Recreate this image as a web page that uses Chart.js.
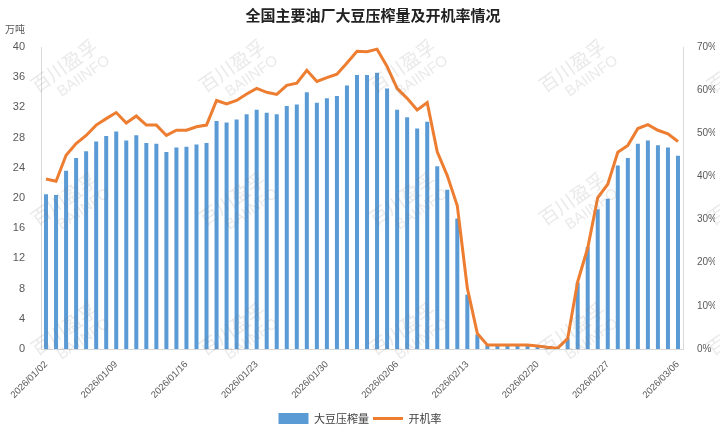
<!DOCTYPE html>
<html>
<head>
<meta charset="utf-8">
<script src="https://cdn.jsdelivr.net/npm/chart.js@4.4.1/dist/chart.umd.min.js"></script>
<style>
  html, body { margin: 0; padding: 0; background: #fff; }
  #wrap { width: 720px; height: 438px; position: relative; }
</style>
</head>
<body>
<div id="wrap"><canvas id="myChart" width="720" height="438"></canvas></div>
<script>
const dates = [
  '2026/01/02','2026/01/03','2026/01/04','2026/01/05','2026/01/06','2026/01/07','2026/01/08',
  '2026/01/09','2026/01/10','2026/01/11','2026/01/12','2026/01/13','2026/01/14','2026/01/15',
  '2026/01/16','2026/01/17','2026/01/18','2026/01/19','2026/01/20','2026/01/21','2026/01/22',
  '2026/01/23','2026/01/24','2026/01/25','2026/01/26','2026/01/27','2026/01/28','2026/01/29',
  '2026/01/30','2026/01/31','2026/02/01','2026/02/02','2026/02/03','2026/02/04','2026/02/05',
  '2026/02/06','2026/02/07','2026/02/08','2026/02/09','2026/02/10','2026/02/11','2026/02/12',
  '2026/02/13','2026/02/14','2026/02/15','2026/02/16','2026/02/17','2026/02/18','2026/02/19',
  '2026/02/20','2026/02/21','2026/02/22','2026/02/23','2026/02/24','2026/02/25','2026/02/26',
  '2026/02/27','2026/02/28','2026/03/01','2026/03/02','2026/03/03','2026/03/04','2026/03/05',
  '2026/03/06'
];

// 大豆压榨量 (万吨)
const crushVolume = [
  20.5, 20.4, 23.6, 25.3, 26.2, 27.5, 28.2,
  28.8, 27.6, 28.3, 27.3, 27.2, 26.1, 26.7,
  26.8, 27.1, 27.3, 30.2, 30.0, 30.4, 31.1,
  31.7, 31.3, 31.1, 32.2, 32.4, 34.0, 32.6,
  33.2, 33.5, 34.9, 36.3, 36.3, 36.6, 34.5,
  31.7, 30.7, 29.2, 30.1, 24.2, 21.1, 17.3,
  7.2, 1.9, 0.5, 0.5, 0.5, 0.5, 0.5,
  0.4, 0.3, 0.2, 1.4, 8.8, 13.5, 18.5,
  19.9, 24.3, 25.3, 27.2, 27.6, 27.0, 26.7,
  25.6
];

// 开机率 (%)
const operatingRate = [
  39.4, 38.9, 44.9, 47.6, 49.5, 51.9, 53.4,
  54.8, 52.4, 54.0, 51.9, 51.9, 49.5, 50.7,
  50.7, 51.5, 51.9, 57.6, 56.8, 57.6, 59.1,
  60.4, 59.5, 59.0, 61.1, 61.6, 64.6, 62.0,
  62.9, 63.7, 66.3, 69.0, 68.9, 69.5, 65.5,
  60.4, 58.1, 55.4, 57.1, 45.7, 40.2, 33.2,
  14.1, 3.6, 0.9, 0.9, 0.9, 0.9, 0.9,
  0.7, 0.4, 0.2, 2.4, 15.6, 23.4, 35.1,
  38.2, 45.6, 47.2, 51.1, 52.0, 50.7, 49.9,
  48.1
];

const leftTicks = [0, 4, 8, 12, 16, 20, 24, 28, 32, 36, 40];
const rightTicks = [0, 10, 20, 30, 40, 50, 60, 70];

const tickFont = { family: "'Liberation Sans', 'DejaVu Sans', sans-serif", size: 11 };
const cjkFont = "'Noto Sans CJK SC', sans-serif";

// title, unit label and watermark
const decorations = {
  id: 'decorations',
  afterDraw(chart) {
    const c = chart.ctx;
    c.save();
    c.fillStyle = '#222';
    c.font = 'bold 15px ' + cjkFont;
    c.textAlign = 'center';
    c.textBaseline = 'middle';
    c.fillText('全国主要油厂大豆压榨量及开机率情况', 373, 15);

    c.fillStyle = '#595959';
    c.font = '10px ' + cjkFont;
    c.textAlign = 'left';
    c.fillText('万吨', 5, 29);

    c.fillStyle = 'rgba(120,120,120,0.16)';
    const xs = [72, 240, 410, 580, 748];
    const ys = [70, 203, 333];
    ys.forEach(y => xs.forEach(x => {
      c.save();
      c.translate(x, y);
      c.rotate(-35 * Math.PI / 180);
      c.textAlign = 'center';
      c.font = '19px ' + cjkFont;
      c.fillText('百川盈孚', -4, -8);
      c.font = '15px ' + tickFont.family;
      c.fillText('BAIINFO', 6, 12);
      c.restore();
    }));
    c.restore();
  }
};

const ctx = document.getElementById('myChart').getContext('2d');
const myChart = new Chart(ctx, {
  type: 'bar',
  data: {
    labels: dates,
    datasets: [{
      label: '大豆压榨量',
      data: crushVolume,
      backgroundColor: '#5B9BD5',
      borderWidth: 0,
      barPercentage: 0.4,
      categoryPercentage: 1,
      pointStyle: 'rect',
      yAxisID: 'y',
      order: 1
    }, {
      type: 'line',
      label: '开机率',
      data: operatingRate,
      borderColor: '#ED7D31',
      backgroundColor: '#ED7D31',
      borderWidth: 3,
      pointRadius: 0,
      tension: 0,
      pointStyle: 'line',
      yAxisID: 'y1',
      order: 0
    }]
  },
  options: {
    responsive: false,
    animation: false,
    layout: { padding: { top: 47, left: 5, right: 5, bottom: 4 } },
    plugins: {
      tooltip: { enabled: false },
      legend: {
        position: 'bottom',
        labels: {
          usePointStyle: true,
          pointStyleWidth: 30,
          boxHeight: 11,
          padding: 4,
          color: '#404040',
          font: { family: cjkFont, size: 11 },
          sort: (a, b) => a.datasetIndex - b.datasetIndex
        }
      }
    },
    scales: {
      x: {
        grid: { display: false },
        border: { color: '#d9d9d9' },
        ticks: {
          autoSkip: false,
          maxRotation: 45,
          minRotation: 45,
          padding: 2,
          color: '#595959',
          font: { family: tickFont.family, size: 9.5 },
          callback: (v, i) => (i % 7 === 0 ? dates[i] : '')
        },
        afterFit: s => { s.height = 60; }
      },
      y: {
        position: 'left',
        min: 0,
        max: 40,
        grid: { display: false },
        border: { color: '#d9d9d9' },
        afterBuildTicks: s => { s.ticks = leftTicks.map(v => ({ value: v })); },
        ticks: { padding: 8, color: '#595959', font: tickFont },
        afterFit: s => { s.width = 36; }
      },
      y1: {
        position: 'right',
        min: 0,
        max: 70,
        grid: { display: false },
        border: { color: '#d9d9d9' },
        afterBuildTicks: s => { s.ticks = rightTicks.map(v => ({ value: v })); },
        ticks: {
          padding: 6,
          color: '#595959',
          font: { family: tickFont.family, size: 10 },
          callback: v => v + '%'
        },
        afterFit: s => { s.width = 32; }
      }
    }
  },
  plugins: [decorations]
});
</script>
</body>
</html>
